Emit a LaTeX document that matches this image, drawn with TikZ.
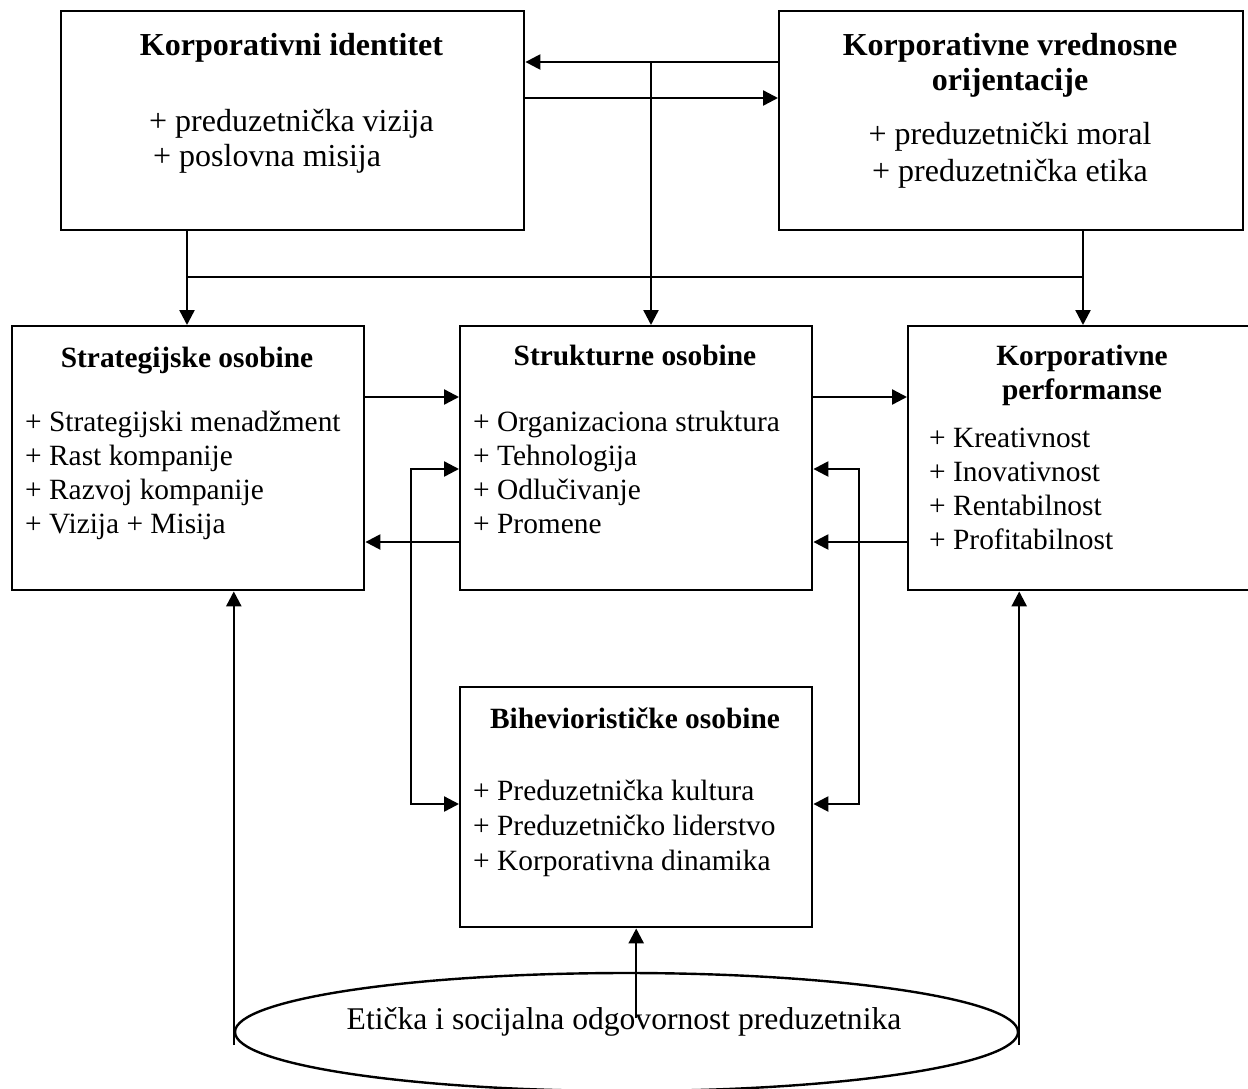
\documentclass[tikz,border=0pt]{standalone}
\usepackage{fontspec}
\setmainfont{Liberation Serif}
\usetikzlibrary{arrows.meta, shapes.geometric}

\begin{document}
\begin{tikzpicture}[x=0.5pt, y=-0.5pt, line width=1.2pt,
    box/.style={draw, rectangle, inner sep=0pt, anchor=north west,
        minimum width=176pt, minimum height=132pt},
    arr/.style={-{Triangle[length=7.5pt, width=7.5pt]}},
    dvoarr/.style={{Triangle[length=7.5pt, width=7.5pt]}-{Triangle[length=7.5pt, width=7.5pt]}},
    veliki/.style={font=\fontsize{16}{18}\selectfont, inner sep=0pt},
    mali/.style={font=\fontsize{14.7}{17}\selectfont, inner sep=0pt},
    velikinaslov/.style={veliki, font=\fontsize{16}{18}\selectfont\bfseries, anchor=base},
    malinaslov/.style={mali, font=\fontsize{14.7}{17}\selectfont\bfseries, anchor=base}]

    \useasboundingbox (0,0) rectangle (1248,1088);

    % okviri
    \node[box, minimum width=231.5pt, minimum height=109.5pt] (ident) at (60,10) {};
    \node[box, minimum width=232pt, minimum height=109.5pt] (vred) at (778,10) {};
    \node[box] (strat) at (11,325) {};
    \node[box] (strukt) at (459,325) {};
    \node[box, minimum width=175pt] (perf) at (907,325) {};
    \node[box, minimum height=120pt] (bihev) at (459,686) {};
    \node[draw, ellipse, inner sep=0pt, minimum width=391.5pt, minimum height=59pt] (etika) at (626.5,1032) {};

    % tekst gore
    \node[velikinaslov] (identnaslov) at (291.5,55) {Korporativni identitet};
    \node[veliki, anchor=base west] (vizija) at (148,131) {+ preduzetnička vizija};
    \node[veliki, anchor=base west] (misija) at (152,166) {+ poslovna misija};

    \node[velikinaslov] (vrednaslov1) at (1010,55) {Korporativne vrednosne};
    \node[velikinaslov] (vrednaslov2) at (1010,90) {orijentacije};
    \node[veliki, anchor=base] (moral) at (1010,144) {+ preduzetnički moral};
    \node[veliki, anchor=base] (etikastavka) at (1010,181) {+ preduzetnička etika};

    % tekst u sredini
    \node[malinaslov] (stratnaslov) at (187,367) {Strategijske osobine};
    \foreach \t [count=\i from 0] in {Strategijski menadžment, Rast kompanije, Razvoj kompanije, Vizija + Misija}
        \node[mali, anchor=base west] (strat\i) at (24,431+34*\i) {+ \t};

    \node[malinaslov] (struktnaslov) at (635,365) {Strukturne osobine};
    \foreach \t [count=\i from 0] in {Organizaciona struktura, Tehnologija, Odlučivanje, Promene}
        \node[mali, anchor=base west] (strukt\i) at (472,431+34*\i) {+ \t};

    \node[malinaslov] (perfnaslov1) at (1082,365) {Korporativne};
    \node[malinaslov] (perfnaslov2) at (1082,399) {performanse};
    \foreach \t [count=\i from 0] in {Kreativnost, Inovativnost, Rentabilnost, Profitabilnost}
        \node[mali, anchor=base west] (perf\i) at (928,447+34*\i) {+ \t};

    \node[malinaslov] (bihevnaslov) at (635,728) {Bihevioristi\v{c}ke osobine};
    \foreach \t [count=\i from 0] in {Preduzetnička kultura, Preduzetničko liderstvo, Korporativna dinamika}
        \node[mali, anchor=base west] (bihev\i) at (472,800+35*\i) {+ \t};

    \node[veliki, font=\fontsize{15.8}{18}\selectfont, anchor=base] (etikatekst) at (624,1029)
        {Etička i socijalna odgovornost preduzetnika};

    % veze gore
    \coordinate (razdeo) at (651,62);
    \coordinate (levo) at (187,277);
    \coordinate (desno) at (1083,277);
    \draw[arr] (vred.west |- razdeo) -- (ident.east |- razdeo);
    \draw[arr] (ident.east |- 0,98) -- (vred.west |- 0,98);
    \draw[arr] (razdeo) -- (razdeo |- strukt.north);
    \draw[arr] (ident.south -| levo) -- (strat.north -| levo);
    \draw[arr] (vred.south -| desno) -- (perf.north -| desno);
    \draw (levo) -- (desno);

    % veze u sredini
    \draw[arr] (strat.east |- 0,397) -- (strukt.west |- 0,397);
    \draw[arr] (strukt.east |- 0,397) -- (perf.west |- 0,397);
    \draw[arr] (strukt.west |- 0,542) -- (strat.east |- 0,542);
    \draw[arr] (perf.west |- 0,542) -- (strukt.east |- 0,542);
    \draw[dvoarr] (strukt.west |- 0,469) -| (411,804) -- (bihev.west |- 0,804);
    \draw[dvoarr] (strukt.east |- 0,469) -| (859,804) -- (bihev.east |- 0,804);

    % veze dole
    \draw[arr] ([yshift=-6.5pt]etika.west) -- (strat.south -| etika.west);
    \draw[arr] ([yshift=-6.5pt]etika.east) -- (perf.south -| etika.east);
    \draw[arr] (bihev.south |- 0,1018) -- (bihev.south);

\end{tikzpicture}
\end{document}
